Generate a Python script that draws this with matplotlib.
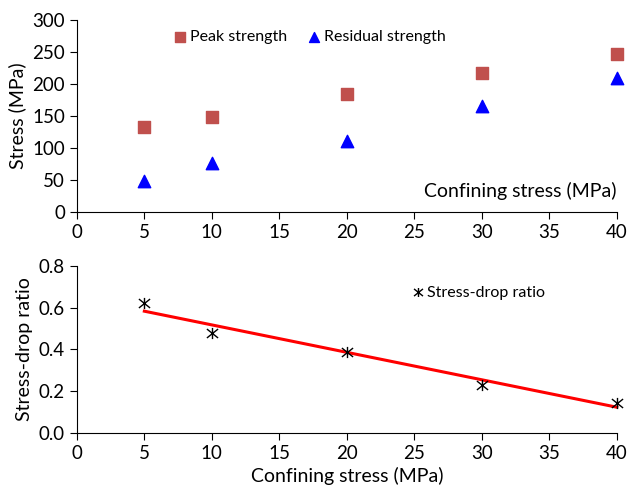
import numpy as np
import matplotlib
matplotlib.use("Agg")
import matplotlib.pyplot as plt
from matplotlib.path import Path

plt.rcParams['font.family'] = ['Lato', 'DejaVu Sans']

confining = [5, 10, 20, 30, 40]
peak = [132, 148, 185, 217, 246]
residual = [48, 76, 111, 166, 210]
drop_ratio = [0.62, 0.48, 0.39, 0.23, 0.145]

# asterisk-like marker: x with a vertical bar
star = Path([(-1, -0.8), (1, 0.8), (-1, 0.8), (1, -0.8), (0, -1.0), (0, 1.0)],
            [Path.MOVETO, Path.LINETO, Path.MOVETO, Path.LINETO, Path.MOVETO, Path.LINETO])

fig = plt.figure(figsize=(6.3, 4.86), dpi=100)
ax1 = fig.add_axes([0.122, 0.564, 0.857, 0.395])
ax2 = fig.add_axes([0.122, 0.109, 0.857, 0.344])

for ax in (ax1, ax2):
    ax.spines['top'].set_visible(False)
    ax.spines['right'].set_visible(False)
    ax.tick_params(direction='out', length=5, labelsize=13.5)
    ax.set_xlim(0, 40)
    ax.set_xticks(range(0, 41, 5))

ax1.scatter(confining, peak, marker='s', s=80, color='#c0504d', label='Peak strength', clip_on=False)
ax1.scatter(confining, residual, marker='^', s=80, color='#0000ff', label='Residual strength', clip_on=False)
ax1.set_ylim(0, 300)
ax1.set_yticks(range(0, 301, 50))
ax1.set_ylabel('Stress (MPa)', fontsize=14)
ax1.text(1.0, 0.11, 'Confining stress (MPa)', transform=ax1.transAxes,
         ha='right', va='center', fontsize=14)
ax1.legend(loc='center left', bbox_to_anchor=(0.15, 0.91), ncol=2, frameon=False,
           fontsize=11.5, handletextpad=0.1, handlelength=1.0, columnspacing=1.2,
           markerscale=0.8)

ax2.scatter(confining, drop_ratio, marker=star, s=65, color='black', linewidths=1.0,
            label='Stress-drop ratio', zorder=3, clip_on=False)
k, b = np.polyfit(confining, drop_ratio, 1)
xs = np.array([confining[0], confining[-1]])
ax2.plot(xs, k * xs + b, color='red', lw=2.2, clip_on=False)
ax2.set_ylim(0, 0.8)
ax2.set_yticks(np.arange(0, 0.81, 0.2))
ax2.set_yticklabels(['0.0', '0.2', '0.4', '0.6', '0.8'])
ax2.set_ylabel('Stress-drop ratio', fontsize=14)
ax2.set_xlabel('Confining stress (MPa)', fontsize=14)
ax2.legend(loc='center left', bbox_to_anchor=(0.59, 0.84), frameon=False,
           fontsize=11.5, handletextpad=0.1, handlelength=1.0, markerscale=0.8)

fig.savefig('out.png', dpi=100)
